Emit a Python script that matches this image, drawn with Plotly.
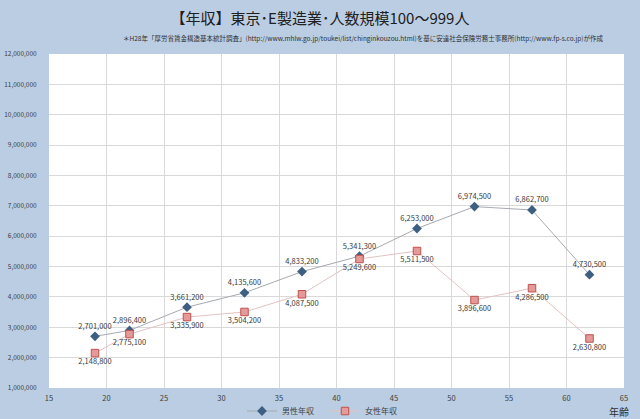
import plotly.graph_objects as go

ages = [19, 22, 27, 32, 37, 42, 47, 52, 57, 62]
male = [2701000, 2896400, 3661200, 4135600, 4833200, 5341300, 6253000, 6974500, 6862700, 4730500]
female = [2148800, 2775100, 3335900, 3504200, 4087500, 5249600, 5511500, 3896600, 4286500, 2630800]

font = "Noto Sans CJK JP"
W, H = 640, 419
L, R, T, B = 49, 16, 54, 31
pw = W - L - R
ph = H - T - B

fig = go.Figure()
fig.add_trace(go.Scatter(
    x=ages, y=male, mode="lines+markers+text", name="男性年収",
    line=dict(color="#a6aab0", width=1),
    marker=dict(symbol="diamond", size=7.5, color="#3d5f82"),
    text=[f"{v:,}" for v in male], textposition="top center",
    textfont=dict(size=7.5, color="#3a3a3a", family=font),
))
fig.add_trace(go.Scatter(
    x=ages, y=female, mode="lines+markers+text", name="女性年収",
    line=dict(color="#e3c2c2", width=1),
    marker=dict(symbol="square", size=7.5, color="#e39a98", line=dict(color="#c0504d", width=1)),
    text=[f"{v:,}" for v in female], textposition="bottom center",
    textfont=dict(size=7.5, color="#3a3a3a", family=font),
))
fig.update_layout(
    width=W, height=H,
    paper_bgcolor="#bacde3", plot_bgcolor="white",
    margin=dict(l=L, r=R, t=T, b=B, autoexpand=False),
    font=dict(family=font, size=7, color="#404040"),
    showlegend=True,
    legend=dict(orientation="h", x=(242 - L) / pw, xanchor="left", y=-(411 - (T + ph)) / ph, yanchor="middle",
                entrywidth=38, entrywidthmode="pixels",
                font=dict(size=8, color="#404040"), bgcolor="rgba(0,0,0,0)"),
    title=dict(text="【年収】東京･E製造業･人数規模100～999人", x=0.5, xanchor="center",
               y=1 - 19 / H, yanchor="middle", font=dict(size=15, color="#202020", family=font)),
    annotations=[
        dict(text="＊H28年「厚労省賃金構造基本統計調査」(http://www.mhlw.go.jp/toukei/list/chinginkouzou.html)を基に安達社会保険労務士事務所(http://www.fp-s.co.jp)が作成",
             x=(364 - L) / pw, y=1 + (T - 38) / ph, xref="paper", yref="paper", showarrow=False,
             xanchor="center", yanchor="middle", font=dict(size=6.5, color="#303030")),
        dict(text="年齢", x=(631 - L) / pw, y=-(411 - (T + ph)) / ph, xref="paper", yref="paper",
             showarrow=False, font=dict(size=10, color="#303030"), xanchor="right", yanchor="middle"),
    ],
)

fig.update_xaxes(range=[15, 65], dtick=5, showgrid=True, gridcolor="#d9d9d9", zeroline=False,
                 ticks="outside", ticklen=3, tickcolor="rgba(0,0,0,0)",
                 tickfont=dict(size=7.5, color="#404040"), showline=False)
fig.update_yaxes(range=[1000000, 12000000], dtick=1000000, tickformat=",d", showgrid=True,
                 gridcolor="#d9d9d9", zeroline=False, ticks="outside", ticklen=10, tickcolor="rgba(0,0,0,0)",
                 tickfont=dict(size=6.5, color="#404040"), showline=False)
fig.write_html("out.html", config={"displayModeBar": False},
               post_script="document.body.style.margin='0';document.body.style.background='#bacde3';")
